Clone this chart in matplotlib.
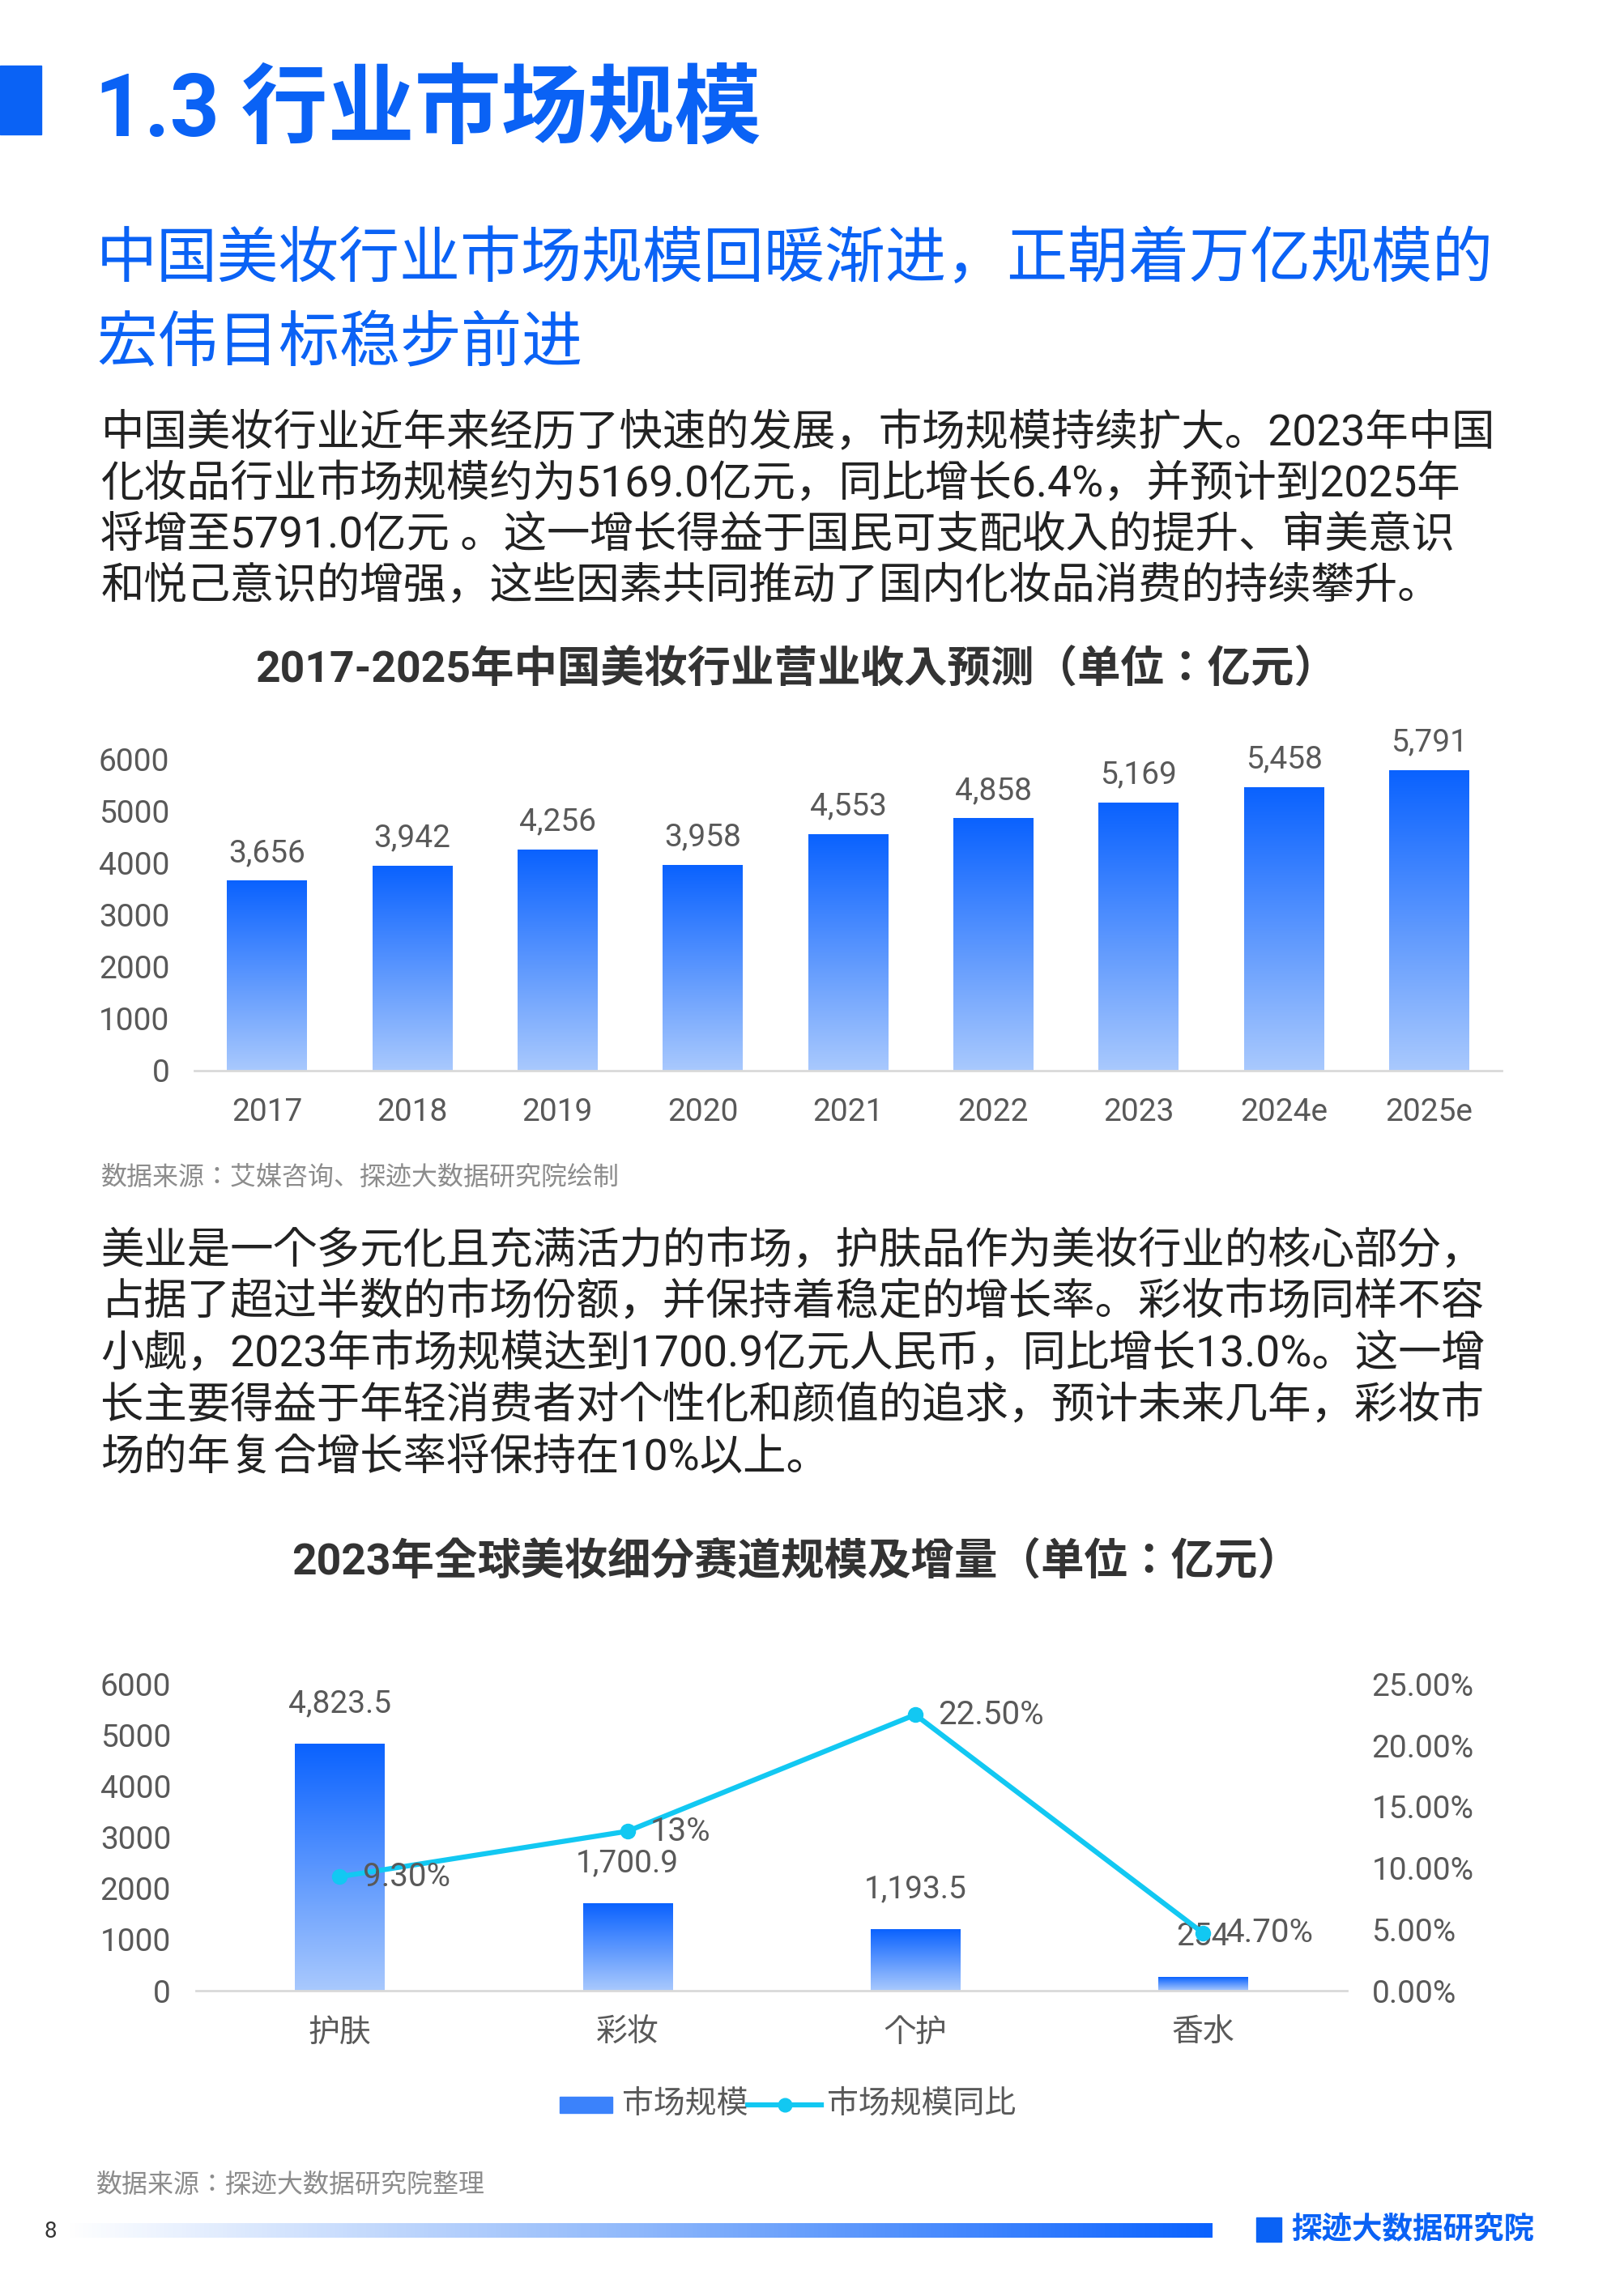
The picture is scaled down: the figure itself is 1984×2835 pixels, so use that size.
import numpy as np
import matplotlib
matplotlib.use("Agg")
import matplotlib.pyplot as plt
from matplotlib import font_manager
from matplotlib.colors import LinearSegmentedColormap
from matplotlib.patches import Rectangle

# 找到系统里实际注册的 CJK 字体名
cjk = [f.name for f in font_manager.fontManager.ttflist if "CJK" in f.name]
cjk_pref = [n for n in ["Noto Sans CJK SC", "Noto Sans CJK JP", "Noto Sans CJK TC", "Noto Sans CJK KR"] if n in cjk]
if not cjk_pref:
    for path in font_manager.findSystemFonts():
        if "CJK" in path or "cjk" in path.lower():
            try:
                font_manager.fontManager.addfont(path)
            except Exception:
                pass
    cjk_pref = sorted({f.name for f in font_manager.fontManager.ttflist if "CJK" in f.name})
plt.rcParams["font.family"] = ["Roboto"] + cjk_pref + ["DejaVu Sans"]

# 数据
years = ["2017", "2018", "2019", "2020", "2021", "2022", "2023", "2024e", "2025e"]
revenue = [3656, 3942, 4256, 3958, 4553, 4858, 5169, 5458, 5791]

segments = ["护肤", "彩妆", "个护", "香水"]
seg_size = [4823.5, 1700.9, 1193.5, 254]
seg_growth = [9.30, 13.0, 22.50, 4.70]
seg_growth_labels = ["9.30%", "13%", "22.50%", "4.70%"]

BLUE = "#0a62f5"
CYAN = "#12c8f2"
GRAY = "#595959"
W, H = 1100, 1572  # 参考图的显示坐标
grad = LinearSegmentedColormap.from_list("g", ["#a9c9fd", "#0a62ff"])


def fx(x):
    return x / W


def fy(y):
    return 1 - y / H


def gradient_bars(ax, xs, vals, width):
    img = np.linspace(0, 1, 256).reshape(-1, 1)
    for x, v in zip(xs, vals):
        ax.imshow(img, cmap=grad, origin="lower", aspect="auto",
                  extent=(x - width / 2, x + width / 2, 0, v), zorder=2)


fig = plt.figure(figsize=(19.84, 28.35), dpi=100)

# 标题区
fig.patches.append(Rectangle((0, fy(92)), fx(28), (92 - 45) / H, transform=fig.transFigure,
                             color=BLUE, zorder=1))
fig.text(fx(65), fy(77), "1.3 行业市场规模", fontsize=77, fontweight="bold", color=BLUE, va="center")
fig.text(fx(66), fy(178), "中国美妆行业市场规模回暖渐进，正朝着万亿规模的", fontsize=54, color=BLUE, va="center")
fig.text(fx(66), fy(236), "宏伟目标稳步前进", fontsize=54, color=BLUE, va="center")

body1 = ["中国美妆行业近年来经历了快速的发展，市场规模持续扩大。2023年中国",
         "化妆品行业市场规模约为5169.0亿元，同比增长6.4%，并预计到2025年",
         "将增至5791.0亿元 。这一增长得益于国民可支配收入的提升、审美意识",
         "和悦己意识的增强，这些因素共同推动了国内化妆品消费的持续攀升。"]
for i, line in enumerate(body1):
    fig.text(fx(69), fy(297 + 35 * i), line, fontsize=38.4, color="#222222", va="center")

# 图一
fig.text(fx(545), fy(459), "2017-2025年中国美妆行业营业收入预测（单位：亿元）",
         fontsize=38.5, fontweight="bold", color="#333333", ha="center", va="center")
ax1 = fig.add_axes([fx(133), fy(733), fx(1028 - 133), (733 - 520) / H])
x1 = np.arange(len(years))
gradient_bars(ax1, x1, revenue, 0.55)
for x, v in zip(x1, revenue):
    ax1.text(x, v + 250, f"{v:,}", ha="center", va="bottom", fontsize=28, color=GRAY)
ax1.set_xlim(-0.5, len(years) - 0.5)
ax1.set_ylim(0, 6000)
ax1.set_yticks(range(0, 6001, 1000))
ax1.set_xticks(x1, years)
ax1.tick_params(length=0, labelsize=28, labelcolor=GRAY, pad=22)
ax1.tick_params(axis="x", pad=24)
for s in ["top", "right", "left"]:
    ax1.spines[s].set_visible(False)
ax1.spines["bottom"].set_color("#d9d9d9")
ax1.spines["bottom"].set_linewidth(2)
fig.text(fx(69), fy(806), "数据来源：艾媒咨询、探迹大数据研究院绘制", fontsize=23, color="#8c8c8c",
         style="italic", va="center")

body2 = ["美业是一个多元化且充满活力的市场，护肤品作为美妆行业的核心部分，",
         "占据了超过半数的市场份额，并保持着稳定的增长率。彩妆市场同样不容",
         "小觑，2023年市场规模达到1700.9亿元人民币，同比增长13.0%。这一增",
         "长主要得益于年轻消费者对个性化和颜值的追求，预计未来几年，彩妆市",
         "场的年复合增长率将保持在10%以上。"]
for i, line in enumerate(body2):
    fig.text(fx(69), fy(857 + 35.3 * i), line, fontsize=38.4, color="#222222", va="center")

# 图二
fig.text(fx(545), fy(1070), "2023年全球美妆细分赛道规模及增量（单位：亿元）",
         fontsize=38.5, fontweight="bold", color="#333333", ha="center", va="center")
ax2 = fig.add_axes([fx(134), fy(1363), fx(922 - 134), (1363 - 1153) / H])
x2 = np.arange(len(segments))
gradient_bars(ax2, x2, seg_size, 0.31)
for x, v in zip(x2, seg_size):
    lab = f"{v:,.1f}" if v != int(v) else f"{int(v):,}"
    ax2.text(x, v + 500, lab, ha="center", va="bottom", fontsize=28, color=GRAY)
ax2.set_xlim(-0.5, len(segments) - 0.5)
ax2.set_ylim(0, 6000)
ax2.set_yticks(range(0, 6001, 1000))
ax2.set_xticks(x2, segments)
ax2.tick_params(length=0, labelsize=28, labelcolor=GRAY, pad=22)
ax2.tick_params(axis="x", pad=24)
for s in ["top", "right", "left"]:
    ax2.spines[s].set_visible(False)
ax2.spines["bottom"].set_color("#d9d9d9")
ax2.spines["bottom"].set_linewidth(2)

ax3 = ax2.twinx()
ax3.plot(x2, seg_growth, color=CYAN, lw=4.5, marker="o", ms=13, zorder=5)
ax3.set_ylim(0, 25)
ax3.set_yticks(range(0, 26, 5), [f"{v:.2f}%" for v in range(0, 26, 5)])
ax3.tick_params(length=0, labelsize=28, labelcolor=GRAY, pad=22)
for s in ax3.spines.values():
    s.set_visible(False)
for x, v, lab in zip(x2, seg_growth, seg_growth_labels):
    ax3.text(x + 0.08, v, lab, ha="left", va="center", fontsize=29, color=GRAY, zorder=6)

# 图例
lx, ly = fx(383), fy(1441)
fig.patches.append(Rectangle((lx, ly - 0.0035), fx(36), 0.007, transform=fig.transFigure,
                             color="#3b82fb"))
fig.text(fx(426), ly, "市场规模", fontsize=28, color=GRAY, va="center")
fig.lines.append(plt.Line2D([fx(512), fx(562)], [ly, ly], transform=fig.transFigure,
                            color=CYAN, lw=4.5))
fig.lines.append(plt.Line2D([fx(537)], [ly], transform=fig.transFigure, color=CYAN,
                            marker="o", ms=12))
fig.text(fx(566), ly, "市场规模同比", fontsize=28, color=GRAY, va="center")

fig.text(fx(66), fy(1496), "数据来源：探迹大数据研究院整理", fontsize=23, color="#8c8c8c",
         style="italic", va="center")

# 页脚
fig.text(fx(30), fy(1528), "8", fontsize=20, color="#333333", va="center")
fax = fig.add_axes([fx(45), fy(1532), fx(830 - 45), 10 / H])
fax.imshow(np.linspace(0, 1, 256).reshape(1, -1),
           cmap=LinearSegmentedColormap.from_list("f", ["#ffffff", "#8fb8fb", "#0a62ff"]),
           aspect="auto")
fax.axis("off")
fig.patches.append(Rectangle((fx(860), fy(1535)), fx(17), 17 / H, transform=fig.transFigure,
                             color=BLUE))
fig.text(fx(884), fy(1527), "探迹大数据研究院", fontsize=27, fontweight="bold", color=BLUE, va="center")

fig.savefig("out.png", dpi=100)
